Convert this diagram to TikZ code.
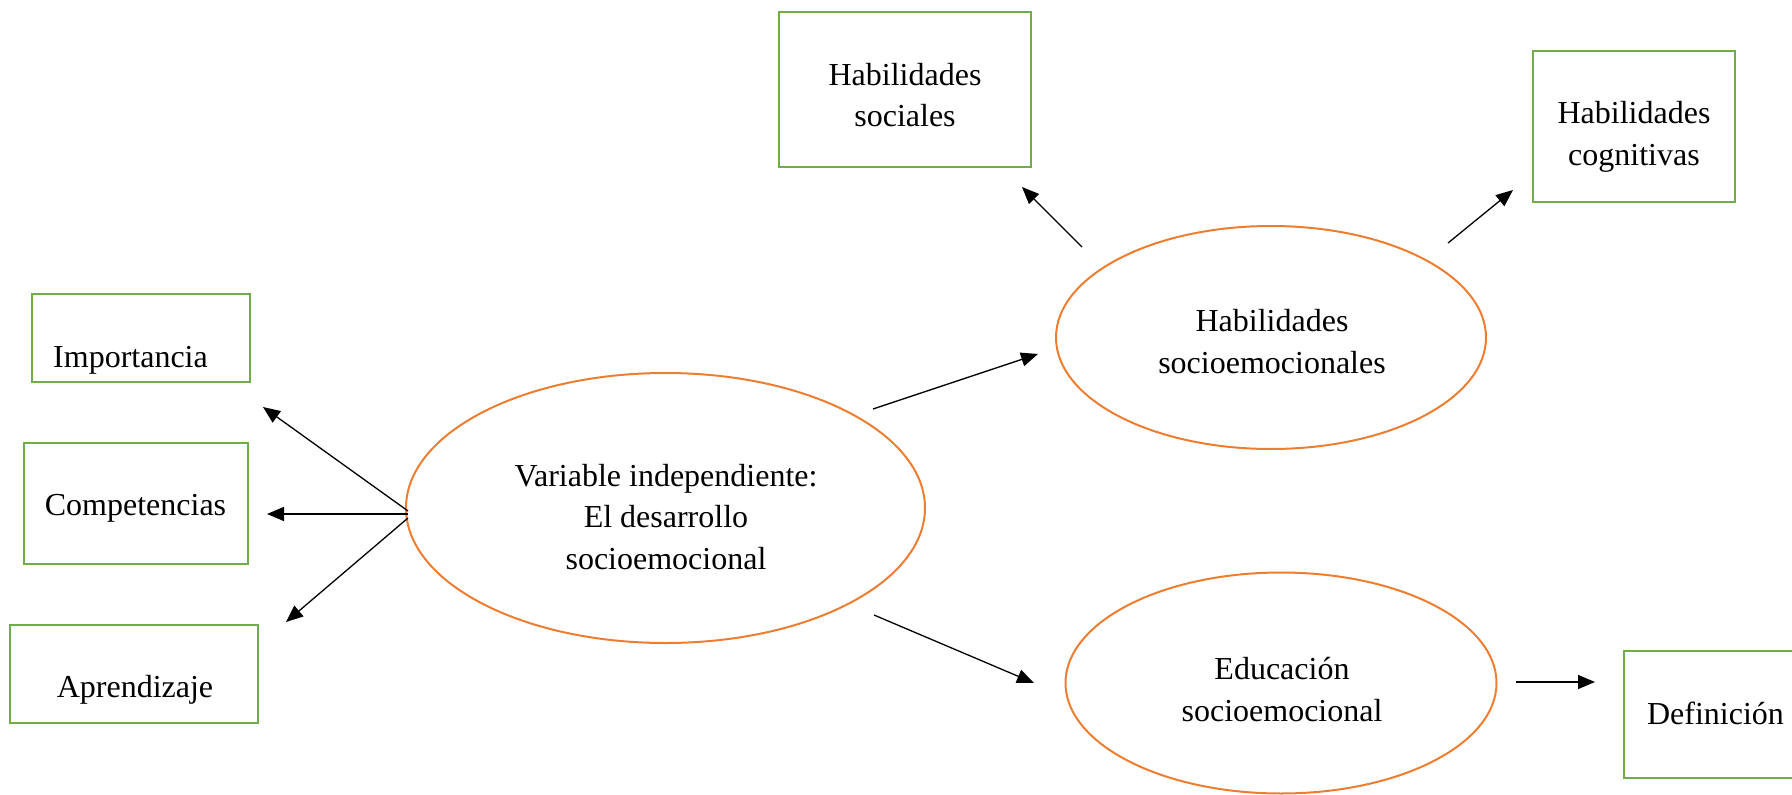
\documentclass[tikz,border=0pt]{standalone}
\usepackage{fontspec}
\setmainfont{Liberation Serif}
\usetikzlibrary{arrows.meta,shapes.geometric}
\definecolor{boxgreen}{RGB}{112,173,71}
\definecolor{ellorange}{RGB}{237,125,49}
\begin{document}
\begin{tikzpicture}[x=1pt,y=-1pt,
  box/.style={draw=boxgreen,line width=2.2pt,rectangle,inner sep=0pt},
  oval/.style={draw=ellorange,line width=2pt,ellipse,inner sep=0pt},
  txt/.style={font=\fontsize{32}{41.5}\selectfont,align=center,inner sep=0pt},
  arr/.style={line width=1.3pt,-{Triangle[length=17pt,width=14pt]}}]
\useasboundingbox (0,0) rectangle (1792,795);
% boxes
\node[box,minimum width=218pt,minimum height=88pt] (imp) at (141,338) {};
\node[box,minimum width=224pt,minimum height=121pt] (comp) at (136,503.5) {};
\node[box,minimum width=248pt,minimum height=98pt] (apr) at (134,674) {};
\node[box,minimum width=252pt,minimum height=155pt] (hs) at (905,89.5) {};
\node[box,minimum width=202pt,minimum height=151pt] (hc) at (1634,126.5) {};
\node[box,minimum width=184pt,minimum height=127pt] (def) at (1716,714.5) {};
% ellipses
\node[oval,minimum width=519pt,minimum height=270pt] (main) at (665.5,508) {};
\node[oval,minimum width=430pt,minimum height=223pt] (hse) at (1271,337.5) {};
\node[oval,minimum width=431pt,minimum height=221pt] (edu) at (1281,683) {};
% texts
\node[txt,anchor=base] (timp) at (130.5,367) {Importancia};
\node[txt,anchor=base] (tcomp) at (135.5,515) {Competencias};
\node[txt,anchor=base] (tapr) at (135,697) {Aprendizaje};
\node[txt,anchor=base] (tdef) at (1715.5,724) {Definición};
\node[txt] (ths) at (905,95) {Habilidades\\sociales};
\node[txt] (thc) at (1634,137) {Habilidades\\cognitivas};
\node[txt] (tmain) at (666,517) {Variable independiente:\\El desarrollo\\socioemocional};
\node[txt] (thse) at (1272,341.5) {Habilidades\\socioemocionales};
\node[txt] (tedu) at (1282,689.5) {Educación\\socioemocional};
% connector ends
\coordinate (s1) at (408,511); \coordinate (e1) at (263,407);
\coordinate (s2) at (408,514); \coordinate (e2) at (267,514);
\coordinate (s3) at (408,518); \coordinate (e3) at (286,622);
\coordinate (s4) at (873,409); \coordinate (e4) at (1038,354);
\coordinate (s5) at (874,615); \coordinate (e5) at (1034,683);
\coordinate (s6) at (1082,247); \coordinate (e6) at (1022,187);
\coordinate (s7) at (1448,243); \coordinate (e7) at (1513,190);
\coordinate (s8) at (1516,682); \coordinate (e8) at (1595,682);
\foreach \i in {1,...,8} {\draw[arr] (s\i) -- (e\i);}
\end{tikzpicture}
\end{document}
